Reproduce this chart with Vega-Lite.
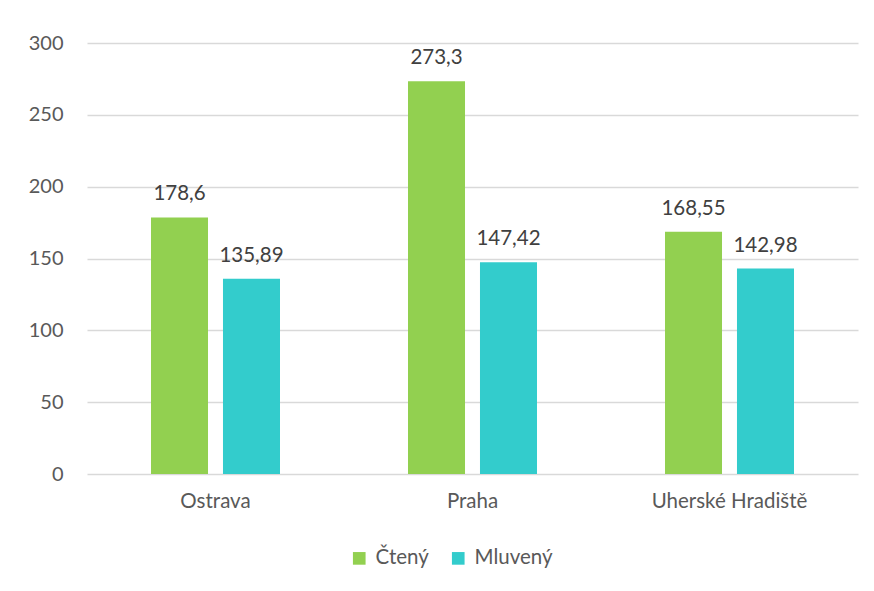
{
  "$schema": "https://vega.github.io/schema/vega-lite/v6.json",
  "width": 771,
  "height": 431,
  "autosize": "none",
  "padding": {"left": 87, "top": 43, "right": 16, "bottom": 117},
  "config": {
    "font": "Lato",
    "view": {"stroke": null},
    "locale": {"number": {"decimal": ",", "thousands": " ", "grouping": [3], "currency": ["", " Kč"]}}
  },
  "data": {
    "values": [
      {"mesto": "Ostrava", "typ": "Čtený", "hodnota": 178.6},
      {"mesto": "Ostrava", "typ": "Mluvený", "hodnota": 135.89},
      {"mesto": "Praha", "typ": "Čtený", "hodnota": 273.3},
      {"mesto": "Praha", "typ": "Mluvený", "hodnota": 147.42},
      {"mesto": "Uherské Hradiště", "typ": "Čtený", "hodnota": 168.55},
      {"mesto": "Uherské Hradiště", "typ": "Mluvený", "hodnota": 142.98}
    ]
  },
  "encoding": {
    "x": {
      "field": "mesto", "type": "nominal",
      "sort": ["Ostrava", "Praha", "Uherské Hradiště"],
      "scale": {"paddingInner": 0, "paddingOuter": 0},
      "axis": {"title": null, "labelAngle": 0, "domain": false, "ticks": false, "labelFontSize": 20.5, "labelColor": "#595959", "labelPadding": 17}
    },
    "xOffset": {
      "field": "typ", "type": "nominal",
      "sort": ["Čtený", "Mluvený"],
      "scale": {"paddingInner": 0.208, "paddingOuter": 0.889}
    },
    "y": {
      "field": "hodnota", "type": "quantitative",
      "scale": {"domain": [0, 300]},
      "axis": {"title": null, "values": [0, 50, 100, 150, 200, 250, 300], "format": "d", "domain": false, "ticks": false, "gridColor": "#D9D9D9", "gridWidth": 1.5, "labelPadding": 24, "labelFontSize": 20, "labelColor": "#595959"}
    }
  },
  "layer": [
    {
      "mark": {"type": "bar"},
      "encoding": {
        "color": {
          "field": "typ", "type": "nominal",
          "sort": ["Čtený", "Mluvený"],
          "scale": {"domain": ["Čtený", "Mluvený"], "range": ["#92D050", "#33CCCC"]},
          "legend": {"title": null, "orient": "none", "direction": "horizontal", "legendX": 262, "legendY": 505, "symbolType": "square", "symbolSize": 160, "symbolStrokeWidth": 0, "symbolOpacity": 1, "labelFontSize": 20.5, "labelColor": "#595959", "columnPadding": 19, "labelOffset": 6}
        }
      }
    },
    {
      "mark": {"type": "text", "baseline": "alphabetic", "dy": -17, "fontSize": 20.5, "color": "#404040"},
      "encoding": {"text": {"field": "hodnota", "type": "quantitative", "format": ".2~f"}}
    }
  ]
}
